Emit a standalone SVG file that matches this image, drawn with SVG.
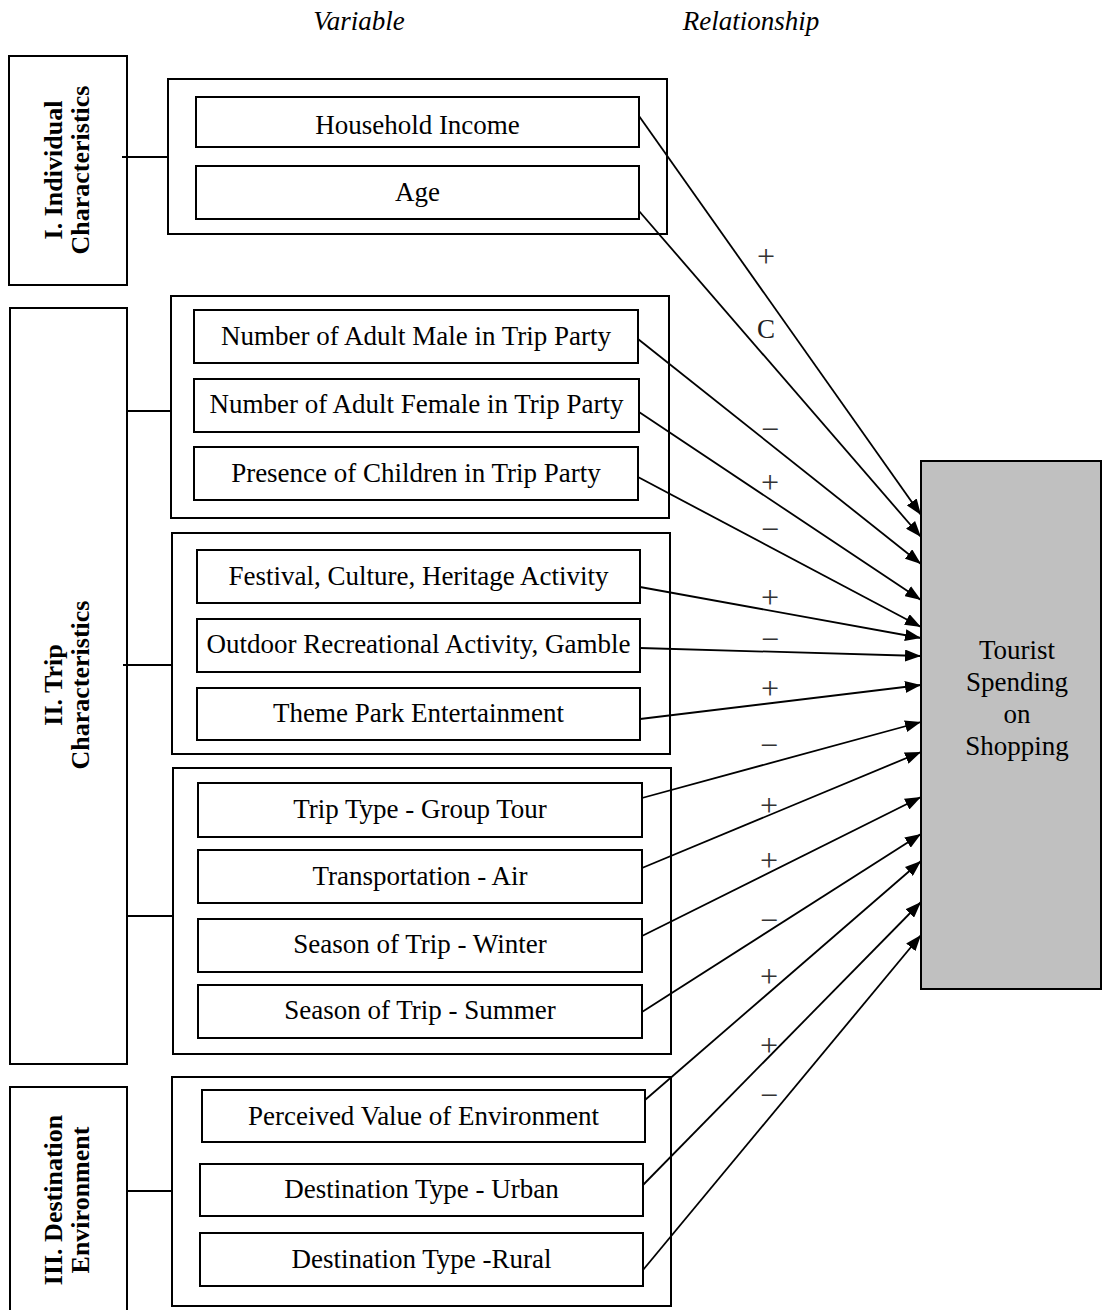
<svg xmlns="http://www.w3.org/2000/svg" width="1103" height="1310" viewBox="0 0 1103 1310">
  <style>
    .box { fill: #ffffff; stroke: #000000; stroke-width: 2; }
    .grp { fill: none; stroke: #000000; stroke-width: 2; }
    .target { fill: #c0c0c0; stroke: #000000; stroke-width: 2; }
    .lbl { font-family: "Liberation Serif", "Times New Roman", serif; font-size: 27px; fill: #000000; text-anchor: middle; }
    .cat { font-family: "Liberation Serif", "Times New Roman", serif; font-size: 26px; font-weight: bold; fill: #000000; text-anchor: middle; }
    .head { font-family: "Liberation Serif", "Times New Roman", serif; font-size: 27px; font-style: italic; fill: #000000; text-anchor: middle; }
    .sign { font-family: "Liberation Serif", "Times New Roman", serif; font-size: 32px; fill: #333333; text-anchor: middle; }
    .letter { font-family: "Liberation Serif", "Times New Roman", serif; font-size: 27px; fill: #222222; text-anchor: middle; }
    .link { stroke: #000000; stroke-width: 1.8; fill: none; }
    .arrow { stroke: #000000; stroke-width: 1.8; fill: none; marker-end: url(#head); }
  </style>
  <defs>
    <marker id="head" markerWidth="16" markerHeight="12" refX="16" refY="6" orient="auto" markerUnits="userSpaceOnUse">
      <path d="M0,0 L16,6 L0,12 z" fill="#000000"/>
    </marker>
  </defs>

  <rect width="1103" height="1310" fill="#ffffff"/>

  <!-- column headings -->
  <text class="head" x="359" y="30">Variable</text>
  <text class="head" x="751" y="30">Relationship</text>

  <!-- category boxes -->
  <g id="cat-individual">
    <rect class="box" x="9" y="56" width="118" height="229"/>
    <text class="cat" transform="translate(62,170) rotate(-90)">I. Individual</text>
    <text class="cat" transform="translate(89,170) rotate(-90)">Characteristics</text>
  </g>
  <g id="cat-trip">
    <rect class="box" x="10" y="308" width="117" height="756"/>
    <text class="cat" transform="translate(62,685) rotate(-90)">II. Trip</text>
    <text class="cat" transform="translate(89,685) rotate(-90)">Characteristics</text>
  </g>
  <g id="cat-destination">
    <rect class="box" x="10" y="1087" width="117" height="230"/>
    <text class="cat" transform="translate(62,1200) rotate(-90)">III. Destination</text>
    <text class="cat" transform="translate(89,1200) rotate(-90)">Environment</text>
  </g>

  <!-- variable group frames -->
  <g id="grp-individual"><rect class="grp" x="168" y="79" width="499" height="155"/></g>
  <g id="grp-party"><rect class="grp" x="171" y="296" width="498" height="222"/></g>
  <g id="grp-activity"><rect class="grp" x="172" y="533" width="498" height="221"/></g>
  <g id="grp-travel"><rect class="grp" x="173" y="768" width="498" height="286"/></g>
  <g id="grp-destination"><rect class="grp" x="172" y="1077" width="499" height="229"/></g>

  <!-- connectors -->
  <g id="connectors">
    <line class="link" x1="122" y1="157" x2="168" y2="157"/>
    <line class="link" x1="127" y1="411" x2="171" y2="411"/>
    <line class="link" x1="123" y1="665" x2="172" y2="665"/>
    <line class="link" x1="127" y1="916" x2="173" y2="916"/>
    <line class="link" x1="127" y1="1191" x2="172" y2="1191"/>

    <line class="arrow" x1="639" y1="116" x2="921" y2="515"/>
    <line class="arrow" x1="639" y1="211" x2="921" y2="537"/>
    <line class="arrow" x1="638" y1="339" x2="921" y2="564"/>
    <line class="arrow" x1="639" y1="412" x2="921" y2="600"/>
    <line class="arrow" x1="638" y1="477" x2="921" y2="627"/>
    <line class="arrow" x1="640" y1="587" x2="921" y2="638"/>
    <line class="arrow" x1="640" y1="648" x2="921" y2="656"/>
    <line class="arrow" x1="640" y1="719" x2="921" y2="685"/>
    <line class="arrow" x1="642" y1="798" x2="921" y2="722"/>
    <line class="arrow" x1="642" y1="868" x2="921" y2="752"/>
    <line class="arrow" x1="642" y1="936" x2="921" y2="797"/>
    <line class="arrow" x1="642" y1="1012" x2="921" y2="834"/>
    <line class="arrow" x1="645" y1="1100" x2="921" y2="861"/>
    <line class="arrow" x1="643" y1="1185" x2="921" y2="902"/>
    <line class="arrow" x1="643" y1="1270" x2="921" y2="935"/>
  </g>

  <!-- variable nodes -->
  <g id="v-income"><rect class="box" x="196" y="97" width="443" height="50"/><text class="lbl" x="417.5" y="134">Household Income</text></g>
  <g id="v-age"><rect class="box" x="196" y="166" width="443" height="53"/><text class="lbl" x="417.5" y="201">Age</text></g>

  <g id="v-male"><rect class="box" x="194" y="310" width="444" height="53"/><text class="lbl" x="416" y="345">Number of Adult Male in Trip Party</text></g>
  <g id="v-female"><rect class="box" x="194" y="379" width="445" height="53"/><text class="lbl" x="416.5" y="413">Number of Adult Female in Trip Party</text></g>
  <g id="v-children"><rect class="box" x="194" y="447" width="444" height="53"/><text class="lbl" x="416" y="482">Presence of Children in Trip Party</text></g>

  <g id="v-festival"><rect class="box" x="197" y="550" width="443" height="53"/><text class="lbl" x="418.5" y="585">Festival, Culture, Heritage Activity</text></g>
  <g id="v-outdoor"><rect class="box" x="197" y="619" width="443" height="53"/><text class="lbl" x="418.5" y="653">Outdoor Recreational Activity, Gamble</text></g>
  <g id="v-themepark"><rect class="box" x="197" y="688" width="443" height="52"/><text class="lbl" x="418.5" y="722">Theme Park Entertainment</text></g>

  <g id="v-grouptour"><rect class="box" x="198" y="783" width="444" height="54"/><text class="lbl" x="420" y="818">Trip Type - Group Tour</text></g>
  <g id="v-air"><rect class="box" x="198" y="850" width="444" height="53"/><text class="lbl" x="420" y="885">Transportation - Air</text></g>
  <g id="v-winter"><rect class="box" x="198" y="919" width="444" height="53"/><text class="lbl" x="420" y="953">Season of Trip - Winter</text></g>
  <g id="v-summer"><rect class="box" x="198" y="985" width="444" height="53"/><text class="lbl" x="420" y="1019">Season of Trip - Summer</text></g>

  <g id="v-perceived"><rect class="box" x="202" y="1090" width="443" height="52"/><text class="lbl" x="423.5" y="1125">Perceived Value of Environment</text></g>
  <g id="v-urban"><rect class="box" x="200" y="1164" width="443" height="52"/><text class="lbl" x="421.5" y="1198">Destination Type - Urban</text></g>
  <g id="v-rural"><rect class="box" x="200" y="1233" width="443" height="53"/><text class="lbl" x="421.5" y="1268">Destination Type -Rural</text></g>

  <!-- outcome node -->
  <g id="outcome">
    <rect class="target" x="921" y="461" width="180" height="528"/>
    <text class="lbl" x="1017" y="659">Tourist</text>
    <text class="lbl" x="1017" y="691">Spending</text>
    <text class="lbl" x="1017" y="723">on</text>
    <text class="lbl" x="1017" y="755">Shopping</text>
  </g>

  <!-- relationship signs -->
  <g id="signs">
    <text class="sign" x="766" y="267">+</text>
    <text class="letter" x="766" y="338">C</text>
    <text class="sign" x="770" y="440">−</text>
    <text class="sign" x="770" y="493">+</text>
    <text class="sign" x="770" y="540">−</text>
    <text class="sign" x="770" y="608">+</text>
    <text class="sign" x="770" y="650">−</text>
    <text class="sign" x="770" y="699">+</text>
    <text class="sign" x="769" y="756">−</text>
    <text class="sign" x="769" y="816">+</text>
    <text class="sign" x="769" y="871">+</text>
    <text class="sign" x="769" y="931">−</text>
    <text class="sign" x="769" y="987">+</text>
    <text class="sign" x="769" y="1056">+</text>
    <text class="sign" x="769" y="1106">−</text>
  </g>
</svg>
